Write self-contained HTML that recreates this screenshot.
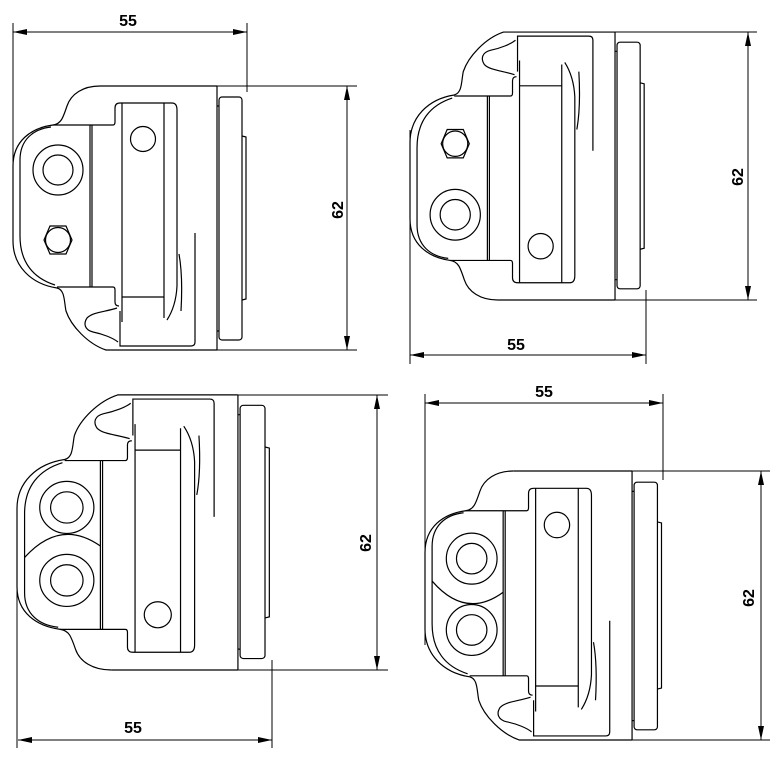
<!DOCTYPE html>
<html><head><meta charset="utf-8"><style>
html,body{margin:0;padding:0;background:#fff;}
svg{display:block;}
text{font-family:"Liberation Sans",Arial,sans-serif;font-weight:bold;font-size:16px;fill:#000;}
</style></head><body>
<svg width="778" height="760" viewBox="0 0 778 760" xmlns="http://www.w3.org/2000/svg">
<defs>
<g id="base" fill="none" stroke="#000" stroke-width="1.2">
  <path vector-effect="non-scaling-stroke" d="M87,0 C70,0 58,8 54,20 C50,32 48,38 40,39 C18,42 0,55 0,80 L0,155 C0,180 18,198 44,202 C52,204 51,215 53,225 C58,240 75,258 93,264 L204,264"/>
  <path vector-effect="non-scaling-stroke" d="M87,0 L204,0"/>
  <path vector-effect="non-scaling-stroke" d="M38,41 C20,43 7,54 7,74 L7,150 C7,176 20,192 42,199"/>
  <path vector-effect="non-scaling-stroke" d="M40,39 L100,39 Q102,39 102,36 L102,22 Q102,17 107,17 L159,17 Q164,17 164,24 L164,200 Q163,220 154,234"/>
  <path vector-effect="non-scaling-stroke" d="M109,17 L109,236"/>
  <path vector-effect="non-scaling-stroke" d="M151,17 L151,232"/>
  <path vector-effect="non-scaling-stroke" d="M109,211 L151,211"/>
  <path vector-effect="non-scaling-stroke" d="M166,168 Q170,190 168,225"/>
  <path vector-effect="non-scaling-stroke" d="M182,147 L182,256 Q182,260 178,260 L107,260 L107,225"/>
  <path vector-effect="non-scaling-stroke" d="M77,39 L77,201 M79,39 L79,201"/>
  <path vector-effect="non-scaling-stroke" d="M44,201 L100,201 Q102,201 102,204 L102,216 Q102,220 106,220"/>
  <path vector-effect="non-scaling-stroke" d="M104,222 C92,226 80,226 74,232 C70,238 72,244 80,246 C90,248 100,252 105,256"/>
  <circle vector-effect="non-scaling-stroke" cx="130" cy="53" r="12.5"/>
  <path vector-effect="non-scaling-stroke" d="M204,0 L204,264"/>
  <rect vector-effect="non-scaling-stroke" x="206" y="11" width="23" height="243" rx="3"/>
  <path vector-effect="non-scaling-stroke" d="M204,20 L206,20 M204,245 L206,245"/>
  <path vector-effect="non-scaling-stroke" d="M229,50 L233,51 L233,213 L229,214"/>
</g>
<g id="typeA" fill="none" stroke="#000" stroke-width="1.2">
  <circle vector-effect="non-scaling-stroke" cx="45" cy="84" r="25"/>
  <circle vector-effect="non-scaling-stroke" cx="45" cy="84" r="15"/>
  <polygon vector-effect="non-scaling-stroke" points="37,140 53,140 59,154 53,168 37,168 31,154"/>
  <circle vector-effect="non-scaling-stroke" cx="45" cy="154" r="12.5"/>
</g>
<g id="typeB" fill="none" stroke="#000" stroke-width="1.2">
  <circle vector-effect="non-scaling-stroke" cx="46" cy="86" r="25"/>
  <circle vector-effect="non-scaling-stroke" cx="46" cy="86" r="15"/>
  <circle vector-effect="non-scaling-stroke" cx="46" cy="156" r="25"/>
  <circle vector-effect="non-scaling-stroke" cx="46" cy="156" r="15"/>
  <path vector-effect="non-scaling-stroke" d="M7,108 Q40,146 77,119"/>
</g>
<marker id="ah" viewBox="0 0 14 6" refX="14" refY="3" markerWidth="14" markerHeight="6" markerUnits="userSpaceOnUse" orient="auto-start-reverse">
  <path d="M0,0 L14,3 L0,6 Z" fill="#000"/>
</marker>
</defs>

<!-- Q1 -->
<g transform="translate(13,86)"><use href="#base"/><use href="#typeA"/></g>
<g stroke="#000" stroke-width="1" fill="none">
  <line x1="217" y1="86" x2="357" y2="86"/><line x1="217" y1="350" x2="357" y2="350"/>
  <line x1="347" y1="86" x2="347" y2="350" marker-start="url(#ah)" marker-end="url(#ah)"/>
  <line x1="13" y1="23" x2="13" y2="220"/><line x1="247" y1="23" x2="247" y2="92"/>
  <line x1="13" y1="32" x2="247" y2="32" marker-start="url(#ah)" marker-end="url(#ah)"/>
</g>
<text x="128" y="26" text-anchor="middle">55</text>
<text transform="translate(343,210) rotate(-90)" text-anchor="middle">62</text>

<!-- Q2 -->
<g transform="translate(410,300) scale(1.005,-1.015)"><use href="#base"/><use href="#typeA"/></g>
<g stroke="#000" stroke-width="1" fill="none">
  <line x1="615" y1="32" x2="757" y2="32"/><line x1="615" y1="300" x2="757" y2="300"/>
  <line x1="748" y1="32" x2="748" y2="300" marker-start="url(#ah)" marker-end="url(#ah)"/>
  <line x1="410" y1="130" x2="410" y2="364"/><line x1="646" y1="290" x2="646" y2="364"/>
  <line x1="410" y1="355" x2="646" y2="355" marker-start="url(#ah)" marker-end="url(#ah)"/>
</g>
<text x="516" y="350" text-anchor="middle">55</text>
<text transform="translate(743,177) rotate(-90)" text-anchor="middle">62</text>

<!-- Q3 -->
<g transform="translate(17,670) scale(1.083,-1.042)"><use href="#base"/><use href="#typeB"/></g>
<g stroke="#000" stroke-width="1" fill="none">
  <line x1="238" y1="395" x2="388" y2="395"/><line x1="238" y1="670" x2="388" y2="670"/>
  <line x1="377" y1="395" x2="377" y2="670" marker-start="url(#ah)" marker-end="url(#ah)"/>
  <line x1="17" y1="585" x2="17" y2="748"/><line x1="272" y1="660" x2="272" y2="748"/>
  <line x1="18" y1="740" x2="272" y2="740" marker-start="url(#ah)" marker-end="url(#ah)"/>
</g>
<text x="133" y="733" text-anchor="middle">55</text>
<text transform="translate(371,543) rotate(-90)" text-anchor="middle">62</text>

<!-- Q4 -->
<g transform="translate(425,471) scale(1.015,1.019)"><use href="#base"/><use href="#typeB"/></g>
<g stroke="#000" stroke-width="1" fill="none">
  <line x1="632" y1="471" x2="770" y2="471"/><line x1="632" y1="740" x2="770" y2="740"/>
  <line x1="761" y1="471" x2="761" y2="740" marker-start="url(#ah)" marker-end="url(#ah)"/>
  <line x1="425" y1="394" x2="425" y2="645"/><line x1="663" y1="394" x2="663" y2="480"/>
  <line x1="425" y1="403" x2="663" y2="403" marker-start="url(#ah)" marker-end="url(#ah)"/>
</g>
<text x="544" y="397" text-anchor="middle">55</text>
<text transform="translate(754,598) rotate(-90)" text-anchor="middle">62</text>
</svg>
</body></html>
